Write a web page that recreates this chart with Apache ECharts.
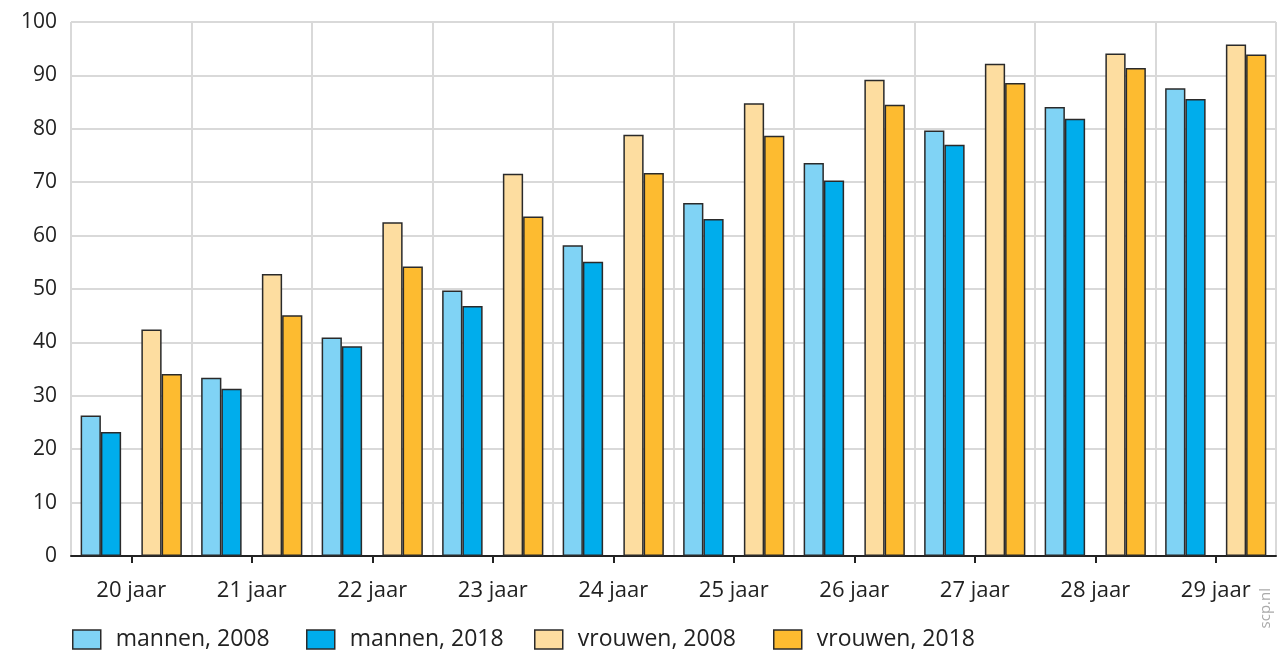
<!DOCTYPE html>
<html>
<head>
<meta charset="utf-8">
<script src="https://cdn.jsdelivr.net/npm/echarts@6/dist/echarts.min.js"></script>
<style>
html,body{margin:0;padding:0;background:#fff;}
#chart{width:1279px;height:650px;}
</style>
</head>
<body>
<div id="chart"></div>
<script>
const categories = ['20 jaar','21 jaar','22 jaar','23 jaar','24 jaar','25 jaar','26 jaar','27 jaar','28 jaar','29 jaar'];
const mannen2008 = [26.3, 33.4, 40.9, 49.7, 58.2, 66.1, 73.6, 79.7, 84.1, 87.6];
const mannen2018 = [23.2, 31.3, 39.3, 46.8, 55.1, 63.1, 70.3, 77.0, 81.9, 85.6];
const vrouwen2008 = [42.4, 52.8, 62.5, 71.6, 78.9, 84.8, 89.2, 92.2, 94.1, 95.8];
const vrouwen2018 = [34.1, 45.1, 54.2, 63.6, 71.7, 78.7, 84.5, 88.6, 91.4, 93.9];
const seriesNames = ['mannen, 2008','mannen, 2018','vrouwen, 2008','vrouwen, 2018'];
const yTicks = [0,10,20,30,40,50,60,70,80,90,100];

const FONT = 'Open Sans';
const legendLefts = [72, 306, 534, 773];
const border = {borderColor:'#2a2a2a', borderWidth:1.5};
function bar(name, data, color){
  return {name:name, type:'bar', data:data, barGap:'0%', barCategoryGap:'16%',
    itemStyle:Object.assign({color:color}, border), emphasis:{disabled:true}};
}
const gap = categories.map(()=>null);

const legends = seriesNames.map((n,i)=>({
  data:[n], left:legendLefts[i], top:628, padding:0, orient:'horizontal',
  icon:'rect', itemWidth:28, itemHeight:19,
  itemStyle:{borderColor:'#2a2a2a', borderWidth:1.5},
  textStyle:{color:'#222', fontSize:23, lineHeight:19, fontFamily:FONT, padding:[0,0,0,10]}
}));

const chart = echarts.init(document.getElementById('chart'), null, {renderer:'canvas'});
chart.setOption({
  animation:false,
  backgroundColor:'#fff',
  textStyle:{fontFamily:FONT},
  grid:{left:71, right:3, top:22, bottom:94, containLabel:false},
  xAxis:{
    type:'category', data:categories,
    axisLine:{show:true, lineStyle:{color:'#222', width:2}},
    axisTick:{show:true, alignWithLabel:true, length:7, lineStyle:{color:'#222', width:2}},
    axisLabel:{color:'#222', fontSize:22, margin:24, fontFamily:FONT},
    splitLine:{show:true, lineStyle:{color:'#d9d9d9', width:2}}
  },
  yAxis:{
    type:'value', min:yTicks[0], max:yTicks[yTicks.length-1], interval:10,
    axisLine:{show:false}, axisTick:{show:false},
    axisLabel:{color:'#222', fontSize:21, margin:14, fontFamily:FONT},
    splitLine:{show:true, lineStyle:{color:'#d9d9d9', width:2}}
  },
  legend:legends,
  graphic:[{
    type:'text', left:1258, top:588,
    rotation:Math.PI/2,
    style:{text:'scp.nl', fill:'#aaaaaa', fontSize:15, fontFamily:FONT}
  }],
  series:[
    bar(seriesNames[0], mannen2008, '#80d3f5'),
    bar(seriesNames[1], mannen2018, '#00adec'),
    {name:'', type:'bar', data:gap, barGap:'0%', barCategoryGap:'16%', silent:true},
    bar(seriesNames[2], vrouwen2008, '#fddda0'),
    bar(seriesNames[3], vrouwen2018, '#fdbb30')
  ]
});
</script>
</body>
</html>
